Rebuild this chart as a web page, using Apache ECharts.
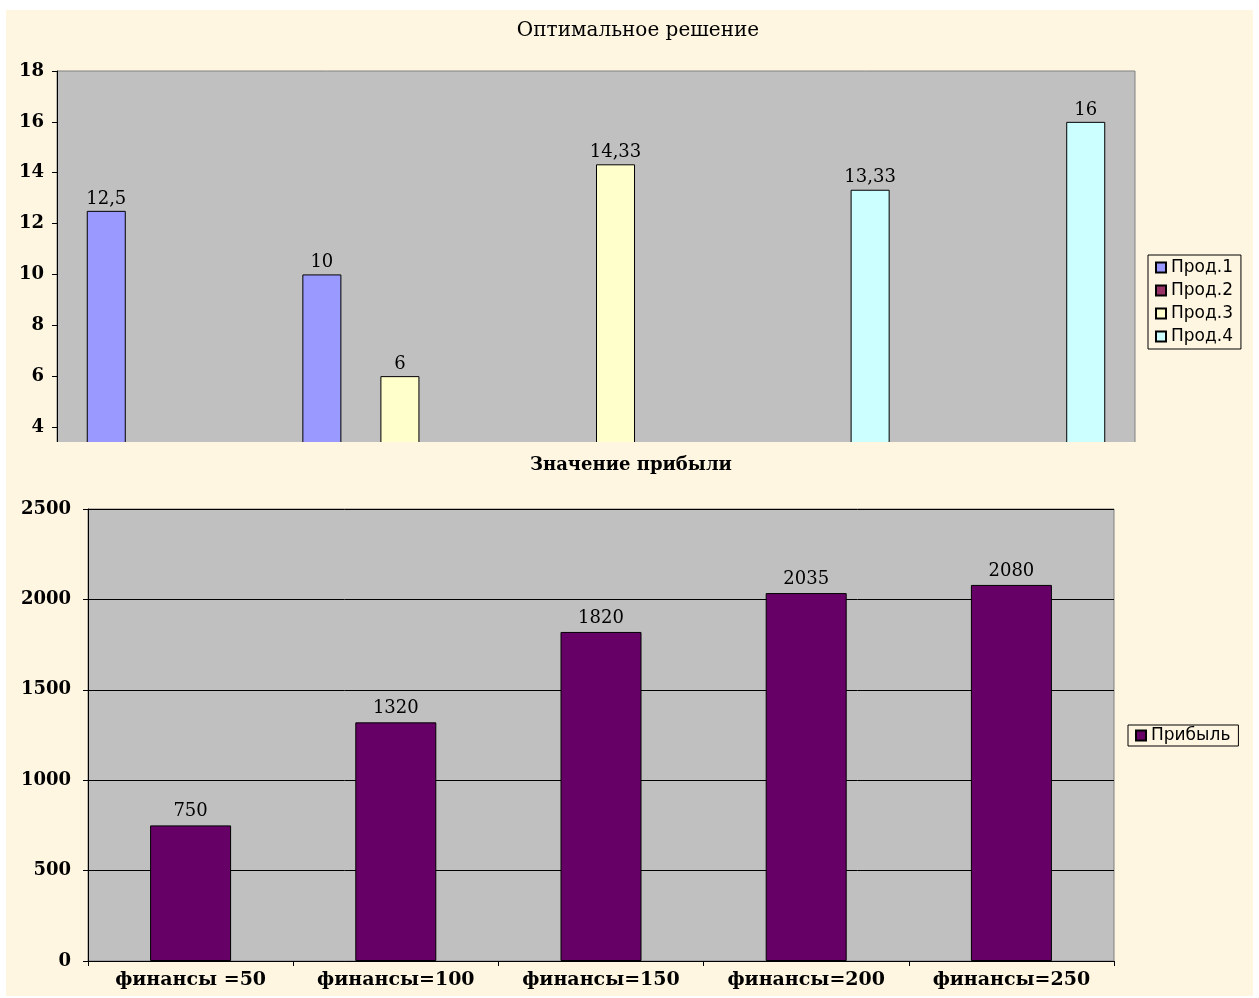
<!DOCTYPE html>
<html>
<head>
<meta charset="utf-8">
<script src="https://cdn.jsdelivr.net/npm/echarts@6/dist/echarts.min.js"></script>
<style>
  html, body { margin: 0; padding: 0; background: #ffffff; }
  #cream { position: absolute; left: 6px; top: 10px; width: 1247px; height: 986px; background: #FEF6E0; }
  #bottom { position: absolute; left: 0; top: 0; width: 1259px; height: 998px; }
  #topWrap { position: absolute; left: 0; top: 0; width: 1259px; height: 442px; overflow: hidden; }
  #top { position: absolute; left: 0; top: 0; width: 1259px; height: 600px; }
</style>
</head>
<body>
<div id="cream"></div>
<div id="bottom"></div>
<div id="topWrap"><div id="top"></div></div>
<script>
// ---- data ----
const categories = ['финансы =50', 'финансы=100', 'финансы=150', 'финансы=200', 'финансы=250'];
const seriesNames = ['Прод.1', 'Прод.2', 'Прод.3', 'Прод.4'];
const prod1 = [12.5, 10, 0, 0, 0];
const prod2 = [0, 0, 0, 0, 0];
const prod3 = [0, 6, 14.33, 0, 0];
const prod4 = [0, 0, 0, 13.33, 16];
const profitName = 'Прибыль';
const profit = [750, 1320, 1820, 2035, 2080];
const topTitle = 'Оптимальное решение';
const bottomTitle = 'Значение прибыли';

const colors = ['#9999FF', '#993366', '#FFFFCC', '#CCFFFF'];
const serif = 'DejaVu Serif';
const sans = 'DejaVu Sans';

// ---- top chart ----
const topChart = echarts.init(document.getElementById('top'), null, { renderer: 'canvas' });
const topData = [prod1, prod2, prod3, prod4];
topChart.setOption({
  animation: false,
  backgroundColor: 'transparent',
  title: {
    text: topTitle, left: 633, top: 16, textAlign: 'center',
    textStyle: { fontFamily: serif, fontSize: 20, fontWeight: 'normal', color: '#000' }
  },
  legend: {
    orient: 'vertical', left: 1148, top: 255,
    data: seriesNames,
    itemWidth: 10, itemHeight: 10, itemGap: 6,
    padding: [4, 8, 4, 7],
    borderColor: '#000', borderWidth: 1,
    icon: 'rect',
    textStyle: { fontFamily: sans, fontSize: 17, color: '#000' }
  },
  grid: {
    left: 57, top: 71, width: 1078, height: 457.7,
    show: true, backgroundColor: '#C0C0C0', borderColor: '#808080', borderWidth: 1,
    containLabel: false
  },
  xAxis: {
    type: 'category', data: categories,
    axisLine: { show: false }, axisTick: { show: false }, axisLabel: { show: false }
  },
  yAxis: {
    type: 'value', min: 0, max: 18, interval: 2,
    splitLine: { show: false },
    axisLine: { show: true, lineStyle: { color: '#000', width: 1 } },
    axisTick: { show: true, length: 5, lineStyle: { color: '#000' } },
    axisLabel: { fontFamily: serif, fontSize: 18, fontWeight: 'bold', color: '#000', margin: 13 }
  },
  series: seriesNames.map((n, i) => ({
    name: n, type: 'bar', data: topData[i],
    barGap: '0%', barCategoryGap: '27.6%',
    itemStyle: { color: colors[i], borderColor: '#000', borderWidth: 1 },
    label: {
      show: true, position: 'top', distance: 3,
      fontFamily: serif, fontSize: 18, color: '#000',
      formatter: p => p.value === 0 ? '' : String(p.value).replace('.', ',')
    }
  }))
});

// ---- bottom chart ----
const bottomChart = echarts.init(document.getElementById('bottom'), null, { renderer: 'canvas' });
bottomChart.setOption({
  animation: false,
  backgroundColor: 'transparent',
  title: {
    text: bottomTitle, left: 626, top: 451, textAlign: 'center',
    textStyle: { fontFamily: serif, fontSize: 18, fontWeight: 'bold', color: '#000' }
  },
  legend: {
    left: 1128, top: 725,
    data: [profitName],
    itemWidth: 10, itemHeight: 10,
    padding: [2, 8, 2, 7],
    borderColor: '#000', borderWidth: 1,
    icon: 'rect',
    textStyle: { fontFamily: sans, fontSize: 17, color: '#000' }
  },
  grid: {
    left: 88, top: 509, width: 1026, height: 452,
    show: true, backgroundColor: '#C0C0C0', borderColor: '#808080', borderWidth: 1,
    containLabel: false
  },
  xAxis: {
    type: 'category', data: categories,
    axisLine: { show: true, lineStyle: { color: '#000', width: 1 } },
    axisTick: { show: true, length: 5, alignWithLabel: false, lineStyle: { color: '#000' } },
    axisLabel: { fontFamily: serif, fontSize: 19, fontWeight: 'bold', color: '#000', margin: 10 }
  },
  yAxis: {
    type: 'value', min: 0, max: 2500, interval: 500,
    splitLine: { show: true, lineStyle: { color: '#000', width: 1 } },
    axisLine: { show: true, lineStyle: { color: '#000', width: 1 } },
    axisTick: { show: true, length: 5, lineStyle: { color: '#000' } },
    axisLabel: { fontFamily: serif, fontSize: 18, fontWeight: 'bold', color: '#000', margin: 17,
      formatter: v => String(v) }
  },
  series: [{
    name: profitName, type: 'bar', data: profit,
    barWidth: 81,
    itemStyle: { color: '#660066', borderColor: '#000', borderWidth: 1 },
    label: {
      show: true, position: 'top', distance: 5,
      fontFamily: serif, fontSize: 18, color: '#000'
    }
  }]
});
</script>
</body>
</html>
